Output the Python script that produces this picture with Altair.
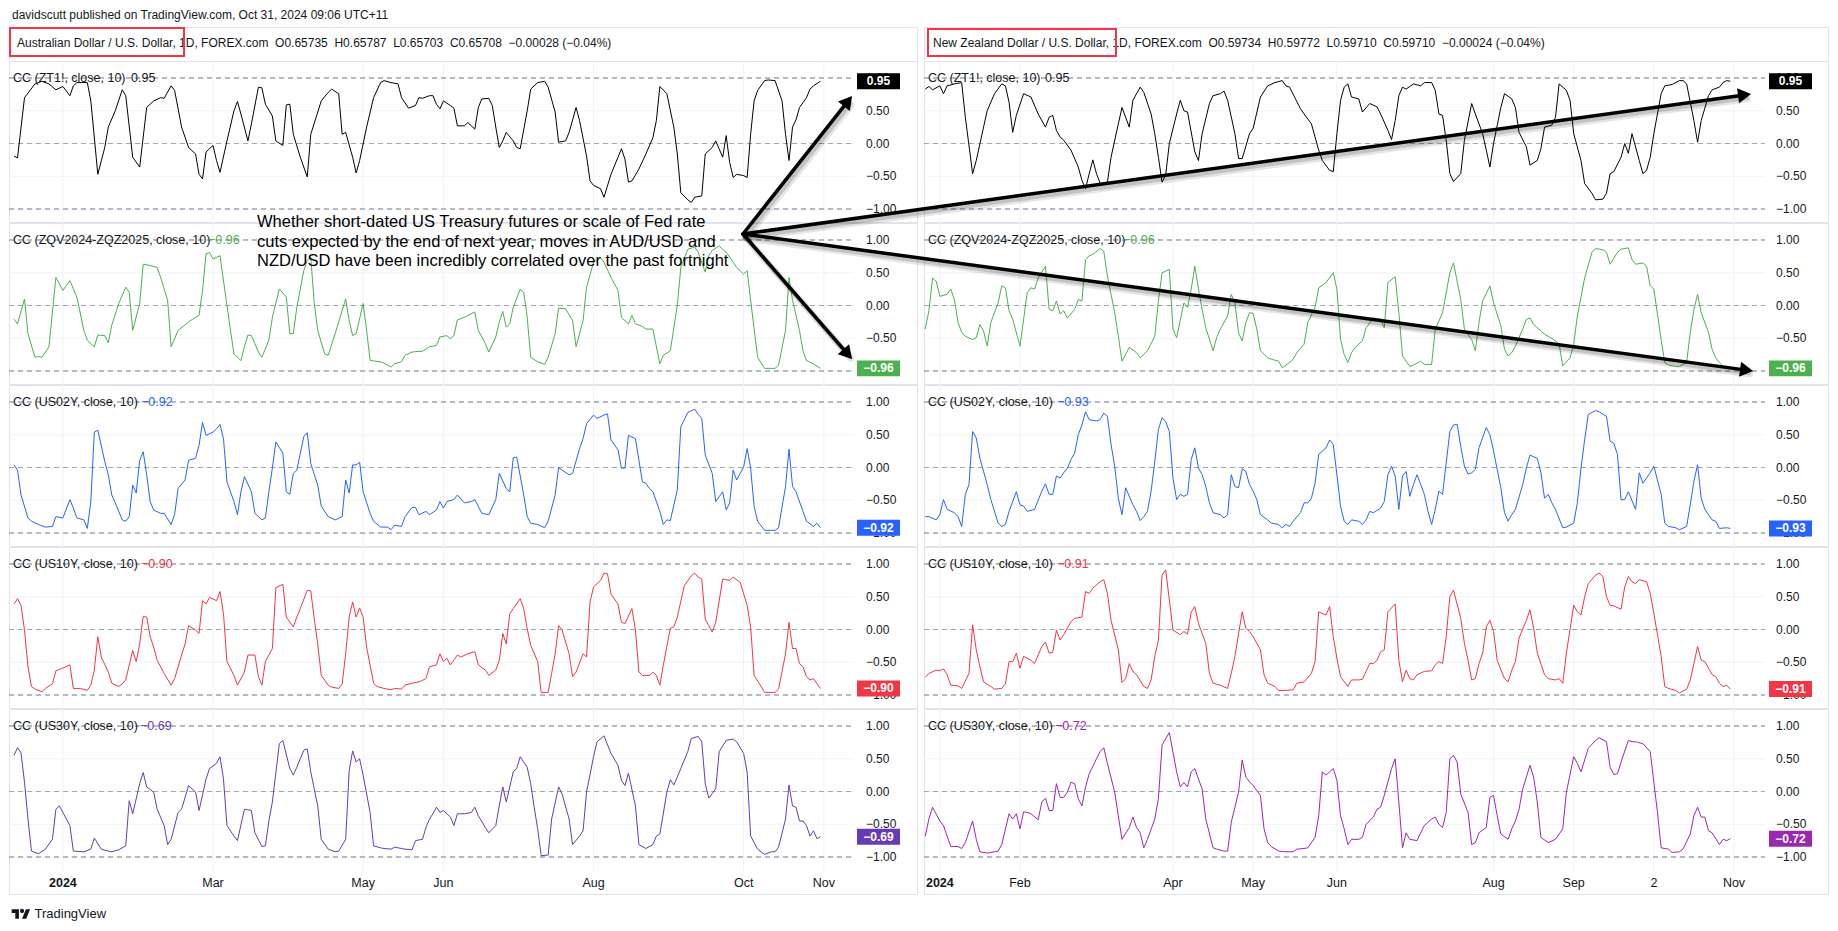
import math
import altair as alt
import pandas as pd

FONT = "Liberation Sans"
INK = "#131722"
GRID = "#f0f3fa"
BORDER = "#e0e3eb"

# ---------------- data: (trading-day index counted from 1 Jan 2024, 10-day correlation) -------------
AUD_ZT = [(-13,-0.19),(-12,-0.22),(-10,0.70),(-7,0.91),(-5,0.95),(-3,0.91),(-1,0.82),(1,0.87),(3,0.73),(4,0.88),(5,0.93),(8,0.93),(9,0.65),(11,-0.47),(13,-0.06),(14,0.25),(16,0.50),(18,0.82),(19,0.73),(21,-0.21),(23,-0.36),(25,0.55),(27,0.65),(29,0.70),(30,0.69),(32,0.88),(33,0.81),(35,0.25),(37,-0.06),(39,-0.16),(40,-0.47),(41,-0.54),(42,-0.13),(44,-0.03),(45,-0.26),(46,-0.44),(48,0.04),(50,0.50),(51,0.64),(52,0.45),(54,0.04),(55,0.30),(57,0.86),(58,0.85),(59,0.60),(61,0.42),(62,0.04),(64,-0.03),(65,0.59),(66,0.60),(67,0.14),(69,-0.21),(71,-0.51),(72,0.14),(75,0.65),(77,0.78),(78,0.83),(80,0.76),(81,0.14),(82,0.17),(84,-0.21),(85,-0.45),(86,-0.26),(88,0.25),(90,0.70),(92,0.93),(93,0.96),(95,0.93),(97,0.91),(98,0.70),(100,0.54),(102,0.58),(103,0.70),(104,0.69),(106,0.73),(107,0.73),(108,0.60),(109,0.53),(110,0.65),(112,0.58),(113,0.54),(114,0.27),(116,0.27),(117,0.32),(119,0.22),(120,0.55),(121,0.68),(123,0.69),(124,0.58),(125,0.25),(126,-0.06),(127,0.04),(128,0.17),(130,0.04),(131,-0.06),(132,-0.08),(134,0.50),(135,0.83),(137,0.93),(139,0.95),(140,0.86),(142,0.48),(143,0.02),(145,0.04),(146,0.17),(148,0.55),(149,0.35),(151,-0.19),(152,-0.57),(153,-0.64),(155,-0.69),(156,-0.82),(158,-0.47),(160,-0.21),(161,-0.08),(162,-0.24),(163,-0.59),(164,-0.57),(166,-0.39),(168,-0.16),(170,0.09),(171,0.35),(172,0.87),(174,0.76),(176,0.25),(177,-0.16),(178,-0.75),(180,-0.86),(181,-0.90),(182,-0.82),(184,-0.80),(185,-0.16),(187,-0.06),(188,0.04),(190,-0.21),(191,0.12),(192,-0.29),(193,-0.52),(194,-0.47),(196,-0.49),(197,-0.52),(198,0.14),(199,0.65),(200,0.81),(202,0.96),(203,0.97),(205,0.96),(207,0.65),(208,0.14),(209,-0.26),(210,0.25),(211,0.36),(212,0.55),(214,0.70),(215,0.83),(216,0.88),(218,0.95)]

AUD_ZQ = [(-13,-0.21),(-12,-0.28),(-10,0.10),(-9,-0.43),(-7,-0.79),(-6,-0.78),(-5,-0.79),(-3,-0.63),(-1,0.43),(1,0.23),(3,0.38),(5,0.13),(7,-0.38),(8,-0.53),(10,-0.63),(11,-0.45),(13,-0.46),(14,-0.57),(15,-0.30),(17,0.03),(19,0.28),(20,0.20),(21,-0.38),(23,0.03),(24,0.63),(26,0.61),(28,0.58),(29,0.43),(31,0.08),(32,-0.63),(34,-0.38),(37,-0.25),(39,-0.18),(40,-0.15),(41,0.23),(42,0.79),(43,0.81),(44,0.71),(46,0.76),(48,0.00),(49,-0.38),(50,-0.74),(52,-0.84),(53,-0.63),(54,-0.45),(55,-0.46),(57,-0.71),(58,-0.79),(60,-0.53),(61,-0.18),(63,0.25),(65,0.13),(66,-0.43),(67,-0.43),(68,-0.03),(70,0.53),(71,0.69),(72,0.74),(73,0.03),(74,-0.38),(76,-0.74),(77,-0.76),(79,-0.43),(82,0.10),(83,-0.23),(84,-0.46),(85,-0.43),(87,0.03),(88,-0.38),(89,-0.84),(92,-0.86),(93,-0.88),(95,-0.94),(96,-0.89),(98,-0.86),(99,-0.76),(101,-0.71),(103,-0.70),(104,-0.70),(106,-0.63),(108,-0.61),(109,-0.48),(111,-0.46),(112,-0.51),(113,-0.46),(114,-0.22),(116,-0.18),(119,-0.10),(120,-0.38),(122,-0.58),(123,-0.71),(125,-0.48),(126,-0.25),(127,-0.09),(128,-0.33),(129,-0.28),(130,-0.03),(132,0.25),(133,0.20),(134,-0.18),(135,-0.79),(137,-0.86),(139,-0.90),(140,-0.79),(142,-0.43),(143,-0.04),(145,-0.05),(147,-0.23),(148,-0.63),(150,-0.23),(151,0.28),(153,0.66),(155,0.73),(156,0.66),(158,0.43),(160,0.23),(161,-0.18),(163,-0.28),(164,-0.15),(165,-0.28),(167,-0.32),(168,-0.36),(170,-0.36),(172,-0.89),(173,-0.76),(175,-0.69),(177,0.00),(178,0.58),(180,0.86),(182,0.89),(183,0.81),(185,0.51),(186,0.76),(187,0.84),(189,0.91),(191,0.81),(192,0.74),(194,0.58),(196,0.48),(197,0.53),(198,0.08),(200,-0.79),(202,-0.96),(204,-0.96),(205,-0.96),(206,-0.91),(208,-0.38),(209,0.43),(210,0.08),(212,-0.38),(213,-0.69),(214,-0.84),(216,-0.89),(218,-0.96)]

AUD_2Y = [(-13,0.04),(-12,-0.04),(-11,-0.42),(-9,-0.77),(-8,-0.82),(-6,-0.87),(-4,-0.91),(-2,-0.90),(-1,-0.75),(1,-0.77),(3,-0.49),(4,-0.62),(5,-0.77),(7,-0.80),(8,-0.93),(9,-0.52),(10,0.54),(11,0.57),(13,0.09),(14,-0.11),(15,-0.42),(16,-0.54),(18,-0.80),(19,-0.82),(20,-0.75),(21,-0.27),(22,-0.39),(23,0.11),(24,0.24),(25,-0.11),(26,-0.52),(27,-0.65),(29,-0.70),(30,-0.70),(32,-0.87),(33,-0.72),(34,-0.32),(36,-0.19),(37,0.11),(39,0.14),(40,0.34),(41,0.69),(42,0.49),(44,0.54),(45,0.59),(46,0.66),(47,0.44),(48,-0.22),(50,-0.52),(51,-0.72),(52,-0.37),(53,-0.14),(55,-0.37),(56,-0.70),(58,-0.80),(59,-0.77),(60,-0.37),(61,-0.01),(62,0.39),(64,0.22),(65,-0.37),(66,-0.41),(67,-0.09),(68,-0.04),(70,0.47),(71,0.53),(72,0.06),(74,-0.27),(75,-0.59),(77,-0.75),(79,-0.80),(81,-0.75),(82,-0.19),(83,-0.39),(84,0.04),(85,0.04),(86,0.08),(87,-0.37),(89,-0.70),(90,-0.82),(92,-0.91),(94,-0.91),(95,-0.95),(96,-0.88),(98,-0.90),(99,-0.75),(101,-0.61),(102,-0.61),(103,-0.72),(105,-0.67),(106,-0.72),(108,-0.65),(109,-0.52),(110,-0.62),(111,-0.52),(113,-0.49),(114,-0.42),(116,-0.54),(118,-0.52),(119,-0.49),(121,-0.70),(123,-0.72),(125,-0.49),(126,-0.09),(128,-0.32),(129,-0.37),(130,0.15),(131,0.16),(133,-0.42),(134,-0.75),(135,-0.85),(137,-0.87),(139,-0.92),(140,-0.82),(142,-0.42),(143,0.00),(144,-0.04),(146,-0.11),(147,-0.09),(149,0.29),(150,0.44),(151,0.67),(153,0.80),(154,0.75),(156,0.80),(157,0.82),(158,0.42),(160,0.27),(161,-0.01),(162,-0.01),(163,0.49),(165,0.44),(167,-0.22),(168,-0.24),(169,-0.32),(170,-0.37),(172,-0.67),(173,-0.87),(174,-0.80),(175,-0.81),(177,-0.34),(178,0.62),(180,0.84),(182,0.89),(183,0.81),(184,0.75),(185,0.19),(187,-0.09),(188,-0.52),(190,-0.37),(191,-0.65),(192,-0.54),(193,-0.04),(194,-0.19),(196,0.01),(197,0.29),(198,-0.01),(199,-0.59),(200,-0.82),(202,-0.96),(204,-0.96),(205,-0.96),(206,-0.92),(208,-0.29),(209,0.28),(210,-0.29),(211,-0.37),(213,-0.67),(214,-0.82),(216,-0.90),(217,-0.85),(218,-0.92)]

AUD_10Y = [(-13,0.39),(-12,0.47),(-11,0.37),(-10,-0.01),(-9,-0.57),(-8,-0.87),(-7,-0.91),(-5,-0.95),(-4,-0.90),(-2,-0.83),(-1,-0.63),(1,-0.59),(3,-0.54),(4,-0.90),(6,-0.90),(8,-0.93),(9,-0.85),(10,-0.62),(11,-0.11),(12,-0.42),(14,-0.65),(15,-0.82),(17,-0.87),(18,-0.83),(19,-0.77),(21,-0.32),(22,-0.49),(23,-0.22),(24,0.20),(25,0.19),(26,-0.11),(27,-0.27),(28,-0.47),(30,-0.67),(32,-0.85),(33,-0.75),(35,-0.39),(36,-0.22),(37,0.06),(39,-0.01),(40,-0.06),(41,0.44),(42,0.39),(43,0.49),(45,0.44),(46,0.58),(47,0.24),(48,-0.49),(50,-0.70),(51,-0.85),(53,-0.65),(54,-0.39),(56,-0.39),(57,-0.72),(58,-0.85),(59,-0.49),(61,-0.29),(62,0.64),(64,0.69),(65,0.19),(67,0.04),(68,0.19),(69,0.32),(71,0.60),(72,0.59),(73,0.16),(74,-0.22),(75,-0.70),(77,-0.85),(78,-0.88),(80,-0.90),(81,-0.83),(82,-0.37),(83,0.19),(84,0.42),(85,0.19),(86,0.33),(87,0.19),(88,-0.27),(90,-0.82),(91,-0.87),(93,-0.90),(95,-0.92),(96,-0.90),(98,-0.91),(99,-0.85),(101,-0.82),(103,-0.80),(105,-0.75),(106,-0.57),(108,-0.54),(109,-0.37),(110,-0.49),(111,-0.44),(112,-0.54),(114,-0.39),(115,-0.42),(117,-0.37),(119,-0.34),(120,-0.54),(122,-0.62),(123,-0.70),(125,-0.62),(126,-0.47),(127,-0.06),(128,-0.22),(129,0.24),(130,0.32),(132,0.47),(133,0.32),(134,0.01),(135,-0.24),(137,-0.49),(138,-0.96),(140,-0.96),(141,-0.67),(142,-0.37),(143,0.06),(144,-0.01),(146,-0.37),(147,-0.72),(148,-0.65),(150,-0.37),(151,-0.42),(152,0.42),(153,0.65),(155,0.75),(156,0.86),(157,0.85),(158,0.54),(160,0.39),(161,0.11),(162,0.09),(164,0.32),(165,-0.01),(166,-0.65),(167,-0.70),(169,-0.70),(170,-0.65),(171,-0.70),(172,-0.85),(173,-0.54),(175,0.02),(176,0.04),(177,0.19),(179,0.67),(181,0.82),(182,0.86),(183,0.80),(184,0.77),(185,0.16),(187,-0.04),(188,0.11),(190,0.77),(192,0.75),(193,0.80),(195,0.72),(197,0.37),(198,0.04),(199,-0.70),(201,-0.87),(202,-0.96),(204,-0.96),(205,-0.96),(206,-0.91),(208,-0.37),(209,0.11),(210,-0.29),(211,-0.29),(212,-0.52),(213,-0.57),(214,-0.72),(215,-0.77),(216,-0.75),(218,-0.90)]

AUD_30Y = [(-13,0.55),(-12,0.67),(-11,0.59),(-10,0.14),(-9,-0.42),(-8,-0.91),(-6,-0.95),(-4,-0.88),(-2,-0.73),(-1,-0.27),(0,-0.22),(2,-0.42),(3,-0.52),(4,-0.91),(7,-0.92),(9,-0.88),(10,-0.71),(12,-0.88),(14,-0.91),(15,-0.92),(17,-0.89),(19,-0.83),(20,-0.14),(21,-0.34),(23,0.12),(24,0.29),(25,0.07),(27,-0.01),(28,-0.27),(30,-0.52),(31,-0.81),(32,-0.73),(34,-0.32),(35,-0.27),(37,0.09),(39,-0.01),(40,-0.29),(42,0.19),(43,0.35),(45,0.43),(46,0.53),(47,0.19),(48,-0.52),(50,-0.68),(51,-0.75),(53,-0.27),(55,-0.29),(56,-0.63),(58,-0.84),(59,-0.83),(60,-0.45),(61,-0.16),(63,0.73),(64,0.78),(66,0.35),(67,0.25),(68,0.37),(70,0.63),(71,0.65),(72,0.30),(74,-0.22),(75,-0.73),(77,-0.88),(79,-0.92),(80,-0.91),(82,-0.73),(83,0.32),(84,0.62),(85,0.45),(86,0.50),(87,0.25),(89,-0.32),(90,-0.83),(92,-0.86),(93,-0.87),(95,-0.88),(96,-0.85),(98,-0.87),(99,-0.88),(101,-0.89),(102,-0.75),(104,-0.73),(105,-0.55),(106,-0.42),(107,-0.34),(108,-0.24),(109,-0.32),(110,-0.29),(112,-0.39),(113,-0.52),(114,-0.34),(116,-0.34),(118,-0.32),(119,-0.24),(120,-0.37),(122,-0.55),(123,-0.63),(125,-0.52),(126,-0.22),(127,0.07),(128,-0.16),(130,0.30),(131,0.35),(132,0.53),(134,0.37),(135,0.12),(136,-0.24),(137,-0.57),(138,-0.98),(140,-0.97),(141,-0.42),(143,0.07),(144,-0.04),(146,-0.42),(147,-0.81),(149,-0.68),(150,-0.60),(151,-0.01),(153,0.53),(154,0.76),(156,0.85),(158,0.58),(160,0.40),(161,0.17),(162,0.09),(163,0.28),(165,-0.22),(166,-0.81),(168,-0.87),(170,-0.81),(171,-0.68),(172,-0.65),(174,-0.01),(175,0.18),(176,0.10),(177,0.22),(178,0.35),(180,0.61),(181,0.81),(183,0.84),(184,0.76),(185,0.12),(186,-0.10),(188,0.04),(189,0.61),(191,0.78),(193,0.80),(194,0.76),(196,0.58),(197,0.30),(198,-0.68),(200,-0.88),(202,-0.96),(204,-0.92),(205,-0.92),(206,-0.85),(208,-0.42),(209,0.10),(210,-0.22),(211,-0.24),(212,-0.45),(213,-0.45),(214,-0.52),(215,-0.68),(216,-0.60),(217,-0.72),(218,-0.69)]

NZD_ZT = [(-3,0.83),(-2,0.87),(-1,0.82),(1,0.88),(2,0.76),(3,0.88),(5,0.91),(7,0.93),(8,0.40),(10,-0.46),(11,-0.26),(13,0.25),(14,0.50),(16,0.76),(18,0.91),(19,0.88),(20,0.63),(21,0.17),(22,0.43),(24,0.76),(26,0.71),(28,0.45),(30,0.25),(31,0.40),(32,0.43),(33,0.20),(34,0.10),(35,0.05),(37,-0.10),(39,-0.36),(40,-0.56),(41,-0.69),(42,-0.46),(43,-0.25),(44,-0.46),(45,-0.61),(47,-0.59),(48,-0.21),(50,0.30),(51,0.55),(53,0.25),(54,0.66),(56,0.86),(57,0.78),(59,0.45),(60,0.15),(61,-0.21),(62,-0.59),(63,-0.48),(64,0.00),(66,0.45),(67,0.66),(68,0.50),(69,0.48),(71,-0.13),(72,-0.26),(73,0.15),(75,0.61),(76,0.73),(78,0.76),(79,0.80),(80,0.66),(82,0.15),(83,-0.23),(84,-0.23),(86,0.15),(87,0.23),(89,0.71),(91,0.88),(93,0.93),(95,0.96),(96,0.88),(97,0.86),(100,0.53),(101,0.45),(103,0.30),(105,-0.10),(106,-0.26),(108,-0.41),(109,-0.43),(110,0.15),(111,0.66),(112,0.86),(113,0.91),(114,0.71),(116,0.68),(117,0.48),(119,0.61),(121,0.56),(122,0.45),(124,0.20),(125,0.06),(126,0.35),(127,0.73),(128,0.86),(129,0.83),(131,0.91),(133,0.88),(134,0.93),(136,0.93),(137,0.81),(138,0.45),(139,0.43),(140,0.05),(141,-0.46),(142,-0.58),(144,-0.46),(145,0.05),(147,0.61),(148,0.45),(150,0.15),(151,-0.10),(152,-0.36),(153,0.00),(155,0.55),(156,0.76),(158,0.68),(159,0.55),(160,0.17),(162,-0.05),(163,-0.33),(165,-0.26),(166,-0.08),(167,0.25),(169,0.28),(170,0.40),(171,0.91),(173,0.81),(174,0.66),(175,0.15),(177,-0.26),(178,-0.61),(180,-0.76),(181,-0.86),(183,-0.85),(184,-0.76),(185,-0.46),(186,-0.43),(188,-0.21),(189,0.00),(190,-0.15),(191,0.15),(193,-0.26),(194,-0.46),(195,-0.41),(196,-0.21),(197,0.15),(199,0.76),(200,0.88),(202,0.90),(204,0.96),(205,0.96),(206,0.91),(208,0.35),(209,0.02),(210,0.35),(212,0.73),(213,0.82),(215,0.86),(216,0.93),(217,0.96),(218,0.95)]

NZD_ZQ = [(-3,-0.36),(-2,-0.08),(-1,0.42),(0,0.37),(1,0.14),(3,0.17),(4,0.25),(5,0.09),(6,-0.26),(7,-0.41),(8,-0.47),(10,-0.52),(11,-0.49),(12,-0.29),(13,-0.39),(14,-0.62),(15,-0.26),(17,0.04),(18,0.30),(19,0.27),(20,-0.08),(21,-0.21),(23,-0.62),(25,0.20),(26,0.27),(27,0.25),(28,0.42),(30,0.60),(31,-0.06),(32,-0.08),(33,0.07),(34,-0.13),(35,-0.08),(36,-0.19),(38,-0.06),(39,0.09),(40,0.07),(41,0.70),(42,0.76),(43,0.78),(45,0.87),(46,0.83),(47,0.45),(49,-0.11),(50,-0.47),(51,-0.85),(53,-0.64),(55,-0.72),(56,-0.80),(58,-0.69),(60,-0.47),(61,0.07),(62,0.50),(64,0.55),(65,-0.36),(66,-0.49),(68,0.04),(69,-0.03),(70,0.25),(71,0.60),(72,0.25),(73,-0.06),(74,-0.34),(76,-0.69),(77,-0.49),(78,-0.36),(80,-0.16),(81,0.17),(82,0.04),(83,-0.42),(84,-0.54),(85,-0.26),(86,-0.11),(87,-0.12),(88,-0.36),(89,-0.69),(91,-0.80),(92,-0.82),(94,-0.85),(95,-0.95),(97,-0.87),(98,-0.82),(99,-0.72),(101,-0.59),(102,-0.26),(104,-0.03),(105,0.27),(107,0.35),(109,0.50),(110,0.25),(111,-0.52),(112,-0.75),(113,-0.87),(114,-0.72),(115,-0.64),(117,-0.54),(118,-0.34),(120,-0.19),(122,-0.21),(123,-0.34),(124,0.35),(126,0.44),(127,-0.11),(128,-0.77),(130,-0.93),(131,-0.91),(133,-0.85),(134,-0.90),(136,-0.90),(137,-0.36),(139,-0.11),(141,0.50),(142,0.65),(144,0.09),(145,-0.36),(147,-0.52),(148,-0.69),(149,-0.26),(150,0.07),(152,0.30),(153,0.04),(155,-0.31),(156,-0.67),(157,-0.77),(158,-0.72),(159,-0.62),(161,-0.36),(162,-0.21),(163,-0.19),(164,-0.29),(165,-0.34),(167,-0.44),(168,-0.47),(170,-0.54),(171,-0.59),(172,-0.92),(174,-0.80),(175,-0.59),(176,-0.16),(178,0.42),(180,0.81),(181,0.87),(183,0.85),(184,0.81),(185,0.63),(187,0.81),(188,0.86),(190,0.88),(191,0.70),(192,0.63),(194,0.65),(195,0.60),(196,0.30),(197,0.25),(199,-0.52),(200,-0.87),(201,-0.91),(203,-0.93),(204,-0.93),(206,-0.87),(207,-0.41),(208,-0.06),(209,0.17),(210,-0.11),(212,-0.41),(213,-0.67),(214,-0.80),(215,-0.87),(216,-0.93),(217,-0.94),(218,-0.96)]

NZD_2Y = [(-3,-0.75),(-2,-0.75),(0,-0.80),(1,-0.72),(2,-0.49),(3,-0.64),(5,-0.69),(6,-0.75),(7,-0.90),(8,-0.41),(9,-0.26),(10,0.55),(11,0.45),(12,0.14),(13,-0.06),(14,-0.26),(15,-0.49),(17,-0.85),(18,-0.90),(19,-0.87),(20,-0.67),(22,-0.37),(23,-0.57),(24,-0.59),(25,-0.67),(27,-0.64),(29,-0.36),(30,-0.25),(31,-0.41),(32,-0.41),(33,-0.13),(34,-0.16),(35,-0.08),(36,-0.01),(37,0.12),(38,0.22),(39,0.50),(40,0.65),(41,0.85),(42,0.73),(44,0.71),(45,0.73),(46,0.83),(47,0.78),(48,0.35),(49,0.02),(50,-0.47),(51,-0.72),(52,-0.31),(54,-0.57),(55,-0.67),(56,-0.81),(57,-0.75),(58,-0.67),(59,-0.36),(60,0.09),(61,0.58),(62,0.76),(63,0.70),(64,0.55),(65,-0.16),(66,-0.49),(67,-0.41),(68,-0.44),(69,-0.41),(70,0.12),(71,0.30),(72,-0.01),(73,-0.11),(74,-0.29),(75,-0.54),(76,-0.69),(78,-0.72),(79,-0.77),(80,-0.72),(81,-0.11),(82,-0.29),(83,-0.31),(84,-0.02),(85,-0.06),(86,-0.26),(87,-0.36),(88,-0.49),(89,-0.72),(91,-0.80),(92,-0.85),(94,-0.87),(95,-0.92),(96,-0.87),(97,-0.90),(98,-0.82),(100,-0.69),(101,-0.54),(102,-0.54),(103,-0.47),(104,-0.24),(105,0.20),(107,0.30),(108,0.42),(109,0.35),(110,-0.11),(111,-0.59),(112,-0.82),(113,-0.87),(114,-0.80),(116,-0.82),(117,-0.87),(118,-0.80),(119,-0.67),(120,-0.69),(122,-0.62),(123,-0.52),(124,-0.11),(125,0.02),(126,-0.13),(127,-0.64),(128,-0.13),(129,-0.06),(130,-0.44),(131,-0.26),(132,-0.11),(134,-0.41),(135,-0.67),(136,-0.87),(137,-0.64),(138,-0.36),(139,-0.41),(141,0.55),(142,0.65),(143,0.66),(144,0.32),(145,0.02),(146,-0.10),(147,-0.08),(148,-0.03),(149,0.30),(151,0.61),(152,0.50),(153,0.25),(155,-0.31),(156,-0.69),(157,-0.82),(158,-0.72),(159,-0.64),(161,-0.26),(162,-0.01),(163,0.19),(165,0.14),(166,-0.08),(167,-0.47),(168,-0.41),(169,-0.54),(170,-0.64),(172,-0.92),(173,-0.91),(175,-0.85),(176,-0.54),(177,-0.01),(178,0.42),(179,0.81),(181,0.87),(182,0.85),(184,0.78),(185,0.40),(186,0.37),(187,0.20),(188,-0.49),(189,-0.49),(190,-0.37),(192,-0.64),(193,-0.08),(194,-0.24),(196,-0.08),(197,0.02),(199,-0.41),(200,-0.85),(201,-0.90),(203,-0.92),(204,-0.95),(206,-0.90),(207,-0.57),(208,-0.21),(209,0.04),(210,-0.47),(211,-0.64),(213,-0.80),(214,-0.82),(215,-0.93),(217,-0.92),(218,-0.93)]

NZD_10Y = [(-3,-0.73),(-2,-0.67),(0,-0.62),(1,-0.63),(2,-0.60),(3,-0.69),(4,-0.85),(6,-0.86),(7,-0.90),(9,-0.67),(10,0.07),(11,-0.31),(12,-0.57),(13,-0.80),(15,-0.87),(16,-0.91),(18,-0.90),(19,-0.83),(20,-0.49),(21,-0.49),(22,-0.36),(23,-0.59),(24,-0.41),(26,-0.47),(27,-0.52),(29,-0.26),(30,-0.19),(31,-0.36),(32,-0.35),(33,-0.01),(34,-0.16),(35,-0.08),(37,0.12),(38,0.17),(40,0.19),(41,0.58),(42,0.55),(43,0.63),(45,0.73),(46,0.76),(47,0.55),(48,0.14),(50,-0.31),(51,-0.81),(52,-0.75),(53,-0.52),(54,-0.64),(55,-0.69),(57,-0.87),(58,-0.90),(59,-0.77),(60,-0.41),(61,-0.16),(62,0.83),(63,0.91),(64,0.45),(65,-0.01),(67,-0.08),(68,-0.03),(69,-0.07),(70,0.27),(71,0.35),(72,0.09),(74,-0.21),(75,-0.67),(76,-0.82),(78,-0.85),(80,-0.90),(81,-0.67),(82,-0.41),(84,0.27),(85,0.02),(86,-0.03),(87,-0.11),(89,-0.31),(90,-0.69),(91,-0.82),(93,-0.87),(94,-0.93),(96,-0.93),(98,-0.92),(99,-0.82),(101,-0.80),(103,-0.67),(104,-0.49),(105,0.27),(107,0.22),(108,0.35),(109,-0.11),(110,-0.44),(111,-0.72),(113,-0.87),(114,-0.77),(116,-0.77),(117,-0.76),(118,-0.64),(119,-0.52),(120,-0.52),(121,-0.47),(122,-0.34),(123,-0.31),(124,0.27),(126,0.39),(127,-0.47),(128,-0.80),(129,-0.62),(130,-0.75),(131,-0.77),(132,-0.69),(134,-0.64),(136,-0.63),(137,-0.54),(138,-0.49),(139,-0.52),(140,-0.11),(141,0.50),(142,0.60),(144,0.17),(145,-0.21),(146,-0.47),(147,-0.77),(148,-0.75),(149,-0.52),(150,-0.36),(151,0.04),(152,0.14),(153,-0.03),(154,-0.47),(156,-0.75),(157,-0.80),(158,-0.62),(159,-0.49),(160,-0.13),(162,0.14),(163,0.30),(164,0.02),(165,-0.36),(167,-0.69),(168,-0.75),(170,-0.77),(171,-0.75),(172,-0.82),(173,-0.36),(175,0.37),(176,0.27),(177,0.22),(178,0.50),(179,0.70),(181,0.83),(182,0.86),(183,0.81),(184,0.50),(185,0.37),(186,0.36),(188,0.31),(189,0.65),(190,0.81),(191,0.73),(192,0.70),(193,0.76),(195,0.73),(196,0.55),(197,0.25),(199,-0.41),(200,-0.87),(201,-0.90),(203,-0.93),(204,-0.97),(206,-0.91),(207,-0.77),(208,-0.52),(209,-0.26),(210,-0.47),(211,-0.49),(213,-0.69),(214,-0.72),(215,-0.82),(216,-0.87),(217,-0.85),(218,-0.91)]

NZD_30Y = [(-3,-0.68),(-2,-0.42),(-1,-0.24),(1,-0.45),(2,-0.52),(3,-0.68),(4,-0.84),(6,-0.84),(7,-0.87),(8,-0.78),(10,-0.45),(11,-0.73),(12,-0.92),(14,-0.94),(15,-0.93),(17,-0.91),(18,-0.81),(20,-0.34),(21,-0.42),(22,-0.34),(23,-0.57),(24,-0.31),(25,-0.32),(26,-0.34),(28,-0.43),(29,-0.16),(30,-0.10),(31,-0.29),(32,-0.29),(33,0.12),(34,-0.09),(35,-0.09),(36,-0.01),(37,0.14),(38,0.12),(39,-0.11),(40,-0.22),(41,0.07),(42,0.27),(44,0.50),(45,0.61),(46,0.67),(47,0.43),(49,-0.01),(50,-0.37),(51,-0.73),(53,-0.55),(54,-0.39),(55,-0.55),(56,-0.63),(57,-0.86),(58,-0.73),(60,-0.42),(61,-0.11),(62,0.71),(64,0.90),(65,0.60),(66,0.30),(67,0.07),(68,0.14),(69,0.07),(70,0.30),(71,0.35),(72,0.19),(73,0.04),(74,-0.42),(76,-0.86),(77,-0.88),(79,-0.91),(80,-0.91),(81,-0.47),(83,-0.01),(84,0.48),(85,0.22),(86,0.15),(87,0.09),(89,-0.06),(90,-0.57),(91,-0.78),(92,-0.84),(94,-0.91),(96,-0.92),(98,-0.92),(99,-0.88),(101,-0.87),(102,-0.86),(104,-0.70),(105,-0.37),(106,0.30),(107,0.25),(109,0.35),(110,0.17),(111,-0.37),(112,-0.57),(113,-0.81),(114,-0.73),(116,-0.73),(117,-0.70),(118,-0.50),(120,-0.39),(121,-0.27),(122,-0.24),(123,-0.06),(125,0.35),(126,0.50),(127,-0.16),(128,-0.86),(129,-0.63),(130,-0.73),(132,-0.75),(133,-0.63),(134,-0.52),(136,-0.42),(137,-0.39),(138,-0.50),(139,-0.55),(140,-0.32),(141,0.50),(142,0.55),(143,0.45),(144,-0.04),(146,-0.32),(147,-0.81),(148,-0.78),(149,-0.63),(151,-0.55),(152,-0.09),(153,-0.06),(154,-0.37),(155,-0.65),(157,-0.73),(158,-0.57),(159,-0.45),(160,-0.27),(161,0.04),(162,0.22),(163,0.40),(164,0.22),(165,-0.16),(166,-0.70),(168,-0.78),(170,-0.73),(171,-0.65),(172,-0.57),(173,-0.01),(175,0.53),(176,0.43),(177,0.30),(178,0.48),(179,0.66),(181,0.78),(182,0.82),(184,0.76),(185,0.37),(186,0.26),(187,0.27),(188,0.45),(190,0.78),(191,0.76),(192,0.76),(194,0.73),(196,0.61),(197,0.14),(198,-0.32),(199,-0.86),(201,-0.88),(202,-0.93),(204,-0.92),(205,-0.88),(207,-0.65),(208,-0.37),(209,-0.24),(210,-0.39),(211,-0.39),(212,-0.60),(213,-0.63),(215,-0.81),(216,-0.73),(217,-0.75),(218,-0.72)]

# time-axis labels (trading-day index, label)
AUD_TICKS = [(1, "2024"), (44, "Mar"), (87, "May"), (110, "Jun"), (153, "Aug"), (196, "Oct"), (219, "Nov")]
NZD_TICKS = [(1, "2024"), (23, "Feb"), (65, "Apr"), (87, "May"), (110, "Jun"), (153, "Aug"), (175, "Sep"), (197, "2"), (219, "Nov")]

Y_TICKS = [1.0, 0.5, 0.0, -0.5, -1.0]
Y_LABELS = ["1.00", "0.50", "0.00", "\u22120.50", "\u22121.00"]

AUD_HEADER = ("Australian Dollar / U.S. Dollar, 1D, FOREX.com \u00a0O0.65735 \u00a0H0.65787 \u00a0L0.65703 "
              "\u00a0C0.65708 \u00a0\u22120.00028 (\u22120.04%)")
NZD_HEADER = ("New Zealand Dollar / U.S. Dollar, 1D, FOREX.com \u00a0O0.59734 \u00a0H0.59772 \u00a0L0.59710 "
              "\u00a0C0.59710 \u00a0\u22120.00024 (\u22120.04%)")
TOP_NOTE = "davidscutt published on TradingView.com, Oct 31, 2024 09:06 UTC+11"
NOTE_LINES = ["Whether short-dated US Treasury futures or scale of Fed rate",
              "cuts expected by the end of next year, moves in AUD/USD and",
              "NZD/USD have been incredibly correlated over the past fortnight"]

# (indicator name, series, colour, last value text, value label offset)
AUD_ROWS = [("CC (ZT1!, close, 10)", AUD_ZT, "#000000", "0.95", 118),
            ("CC (ZQV2024-ZQZ2025, close, 10)", AUD_ZQ, "#4caf50", "\u22120.96", 195),
            ("CC (US02Y, close, 10)", AUD_2Y, "#2962ff", "\u22120.92", 128),
            ("CC (US10Y, close, 10)", AUD_10Y, "#f23645", "\u22120.90", 128),
            ("CC (US30Y, close, 10)", AUD_30Y, "#673ab7", "\u22120.69", 127)]
NZD_ROWS = [("CC (ZT1!, close, 10)", NZD_ZT, "#000000", "0.95", 117),
            ("CC (ZQV2024-ZQZ2025, close, 10)", NZD_ZQ, "#4caf50", "\u22120.96", 195),
            ("CC (US02Y, close, 10)", NZD_2Y, "#2962ff", "\u22120.93", 129),
            ("CC (US10Y, close, 10)", NZD_10Y, "#f23645", "\u22120.91", 129),
            ("CC (US30Y, close, 10)", NZD_30Y, "#9c27b0", "\u22120.72", 127)]

# ---------------- layout ----------------
TOTAL_W = 1820
ROW_H, LAST_H, HEAD_H, FOOT_H = 162, 186, 52, 30
YTOP, YBOT, YBOT_LAST = 1.2595, -1.2137, -1.580
PLOT_END = 227.5
# each column has its own time scale spanning the full row width; domains place each panel in its column
LEFT = dict(x0=0, x1=909, dom=[-14.44, 506.90], k0=-14.44, hdr_x=8, box=(1, 175, 19, 47))
RIGHT = dict(x0=915, x1=1820, dom=[-254.52, 245.08], k0=-3.35, hdr_x=924, box=(919, 1107, 20, 47))
BADGE_W = 43
ONE = pd.DataFrame({"a": [0]})


def frame(side, H):
    return alt.Chart(ONE).mark_rect(fillOpacity=0, stroke=BORDER, strokeWidth=1).encode(
        x=alt.value(side["x0"] + 0.5), x2=alt.value(side["x1"] - 0.5),
        y=alt.value(0.5), y2=alt.value(H - 0.5))


def panel_layers(side, row, ticks, last_row):
    name, pts, color, last_txt, vdx = row
    ybot = YBOT_LAST if last_row else YBOT
    xs = alt.Scale(domain=side["dom"], nice=False, zero=False)
    ys = alt.Scale(domain=[ybot, YTOP], nice=False, zero=False)
    ox = side["x0"]
    lab_x = ox + (852 if ox else 857)
    b0 = ox + (845 if ox else 848)

    def X(f):
        return alt.X(f"{f}:Q", scale=xs, axis=None)

    def Y(f):
        return alt.Y(f"{f}:Q", scale=ys, axis=None)

    tk = pd.DataFrame(ticks, columns=["k", "lab"])
    grid = pd.DataFrame({"y": Y_TICKS, "lab": Y_LABELS})
    grid["x0"] = side["k0"]
    grid["x1"] = PLOT_END
    series = pd.DataFrame(pts, columns=["k", "v"])
    last = series["v"].iloc[-1]
    badge = pd.DataFrame({"v": [last], "yt": [last + 0.122], "yb": [last - 0.122], "t": [last_txt]})

    layers = [
        alt.Chart(tk).mark_rule(color=GRID, strokeWidth=1).encode(
            x=X("k"), y=alt.value(0), y2=alt.value(ROW_H)),
        alt.Chart(grid).mark_rule(color=GRID, strokeWidth=1).encode(x=X("x0"), x2="x1", y=Y("y")),
        alt.Chart(grid[grid["y"].abs() == 1]).mark_rule(color="#787b86", strokeWidth=1, strokeDash=[5, 4]).encode(
            x=X("x0"), x2="x1", y=Y("y")),
        alt.Chart(grid[grid["y"] == 0]).mark_rule(color="#a3a6af", strokeWidth=1, strokeDash=[5, 4]).encode(
            x=X("x0"), x2="x1", y=Y("y")),
        alt.Chart(grid).mark_text(align="left", baseline="middle", font=FONT, fontSize=12, color=INK).encode(
            x=alt.value(lab_x), y=Y("y"), text="lab"),
        alt.Chart(series).mark_line(color=color, strokeWidth=1).encode(x=X("k"), y=Y("v"), order="k:Q"),
        alt.Chart(badge).mark_rect(color=color).encode(
            x=alt.value(b0), x2=alt.value(b0 + BADGE_W), y=Y("yt"), y2="yb"),
        alt.Chart(badge).mark_text(align="center", baseline="middle", font=FONT, fontSize=12,
                                   fontWeight="bold", color="#ffffff").encode(
            x=alt.value(b0 + BADGE_W / 2), y=Y("v"), text="t"),
        alt.Chart(ONE).mark_text(align="left", baseline="middle", font=FONT, fontSize=12.5, color=INK).encode(
            x=alt.value(ox + 4), y=alt.value(17), text=alt.value(name)),
        alt.Chart(ONE).mark_text(align="left", baseline="middle", font=FONT, fontSize=12.5,
                                 color=INK if color == "#000000" else color).encode(
            x=alt.value(ox + 4 + vdx), y=alt.value(17), text=alt.value(last_txt)),
    ]
    if last_row:
        layers.append(alt.Chart(tk[tk["lab"] == "2024"]).mark_text(
            align="center", baseline="middle", font=FONT, fontSize=12.5, fontWeight="bold", color=INK).encode(
            x=X("k"), y=alt.value(174), text="lab"))
        layers.append(alt.Chart(tk[tk["lab"] != "2024"]).mark_text(
            align="center", baseline="middle", font=FONT, fontSize=12.5, color=INK).encode(
            x=X("k"), y=alt.value(174), text="lab"))
    return layers


def panel_row(i):
    last_row = i == len(AUD_ROWS) - 1
    H = LAST_H if last_row else ROW_H
    layers = [frame(LEFT, H), frame(RIGHT, H)]
    layers += panel_layers(LEFT, AUD_ROWS[i], AUD_TICKS, last_row)
    layers += panel_layers(RIGHT, NZD_ROWS[i], NZD_TICKS, last_row)
    return alt.layer(*layers).resolve_scale(x="independent").properties(width=TOTAL_W, height=H)


def header_row():
    base = alt.Chart(ONE)
    layers = [base.mark_text(align="left", baseline="middle", font=FONT, fontSize=12, color=INK).encode(
        x=alt.value(3), y=alt.value(6), text=alt.value(TOP_NOTE))]
    for side, title in [(LEFT, AUD_HEADER), (RIGHT, NZD_HEADER)]:
        b = side["box"]
        layers += [
            base.mark_rect(fillOpacity=0, stroke=BORDER, strokeWidth=1).encode(
                x=alt.value(side["x0"] + 0.5), x2=alt.value(side["x1"] - 0.5),
                y=alt.value(18.5), y2=alt.value(HEAD_H + 0.5)),
            base.mark_text(align="left", baseline="middle", font=FONT, fontSize=12, color=INK).encode(
                x=alt.value(side["hdr_x"]), y=alt.value(34), text=alt.value(title)),
            base.mark_rect(fillOpacity=0, stroke="#f23645", strokeWidth=2).encode(
                x=alt.value(b[0]), x2=alt.value(b[1]), y=alt.value(b[2]), y2=alt.value(b[3])),
        ]
    return alt.layer(*layers).properties(width=TOTAL_W, height=HEAD_H)


LOGO = ("M-0.222,0.5L-0.611,0.5L-0.611,-0.111L-1,-0.111L-1,-0.5L-0.222,-0.5Z"
        "M0.556,0.5L0.111,0.5L0.528,-0.5L0.972,-0.5Z"
        "M-0.111,-0.333A0.222,0.222 0 1,0 0.333,-0.333A0.222,0.222 0 1,0 -0.111,-0.333Z")

# annotation, drawn in the last row so it sits on top of every panel
OX, OY = 8, 894            # page position of the footer row's origin
ARROW_FROM = (742, 233)
ARROW_TIPS = [(851, 95), (851, 358), (1750, 93), (1752, 370)]


def footer_row():
    base = alt.Chart(ONE)
    layers = [
        base.mark_point(shape=LOGO, filled=True, size=350, color=INK, opacity=1).encode(
            x=alt.value(12), y=alt.value(19)),
        base.mark_text(align="left", baseline="middle", font=FONT, fontSize=13, color=INK).encode(
            x=alt.value(25.5), y=alt.value(19), text=alt.value("TradingView")),
    ]
    for i, line in enumerate(NOTE_LINES):
        layers.append(base.mark_text(align="left", baseline="middle", font=FONT, fontSize=16.5,
                                     color="#000000").encode(
            x=alt.value(256 - OX), y=alt.value(221 + 19.6 * i - OY), text=alt.value(line)))
    fx, fy = ARROW_FROM
    for tx, ty in ARROW_TIPS:
        dx, dy = tx - fx, ty - fy
        L = math.hypot(dx, dy)
        ux, uy = dx / L, dy / L
        cx, cy = tx - ux * 6.5, ty - uy * 6.5
        ang = math.degrees(math.atan2(dx, -dy)) % 360
        for off, w, op in [(3, 7, 0.10), (2, 4.5, 0.15)]:
            layers.append(base.mark_rule(color="#000000", strokeWidth=w, opacity=op, strokeCap="round").encode(
                x=alt.value(fx - OX + off), y=alt.value(fy - OY + off + 1),
                x2=alt.value(cx - OX + off), y2=alt.value(cy - OY + off + 1)))
        layers.append(base.mark_rule(color="#000000", strokeWidth=3.5, strokeCap="round").encode(
            x=alt.value(fx - OX), y=alt.value(fy - OY), x2=alt.value(cx - OX), y2=alt.value(cy - OY)))
        layers.append(base.mark_point(shape="triangle-up", filled=True, size=230, angle=ang,
                                      color="#000000", opacity=1).encode(
            x=alt.value(cx - OX), y=alt.value(cy - OY)))
    return alt.layer(*layers).properties(width=TOTAL_W, height=FOOT_H)


rows = [header_row()] + [panel_row(i) for i in range(len(AUD_ROWS))] + [footer_row()]
chart = alt.vconcat(*rows, spacing=0, bounds="flush").properties(
    padding=0, background="#ffffff"
).configure_view(stroke="transparent")

chart.save("out.html", embed_options={"renderer": "svg", "actions": False})
